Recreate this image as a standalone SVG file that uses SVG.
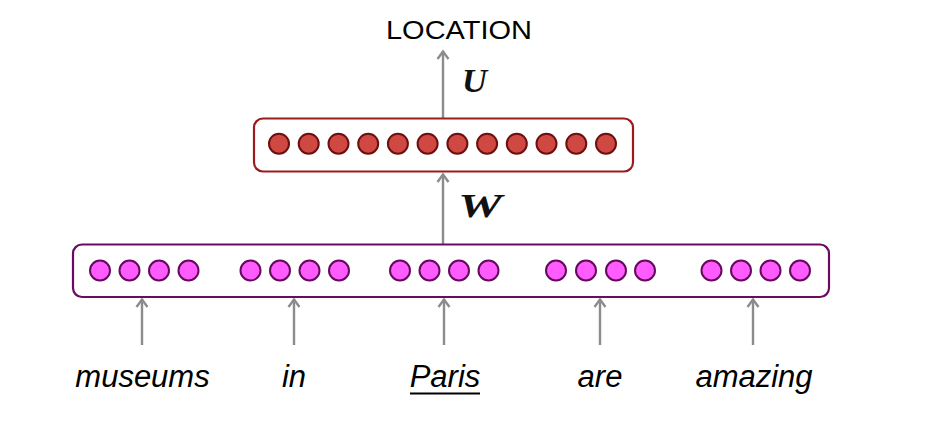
<svg xmlns="http://www.w3.org/2000/svg" width="942" height="424" viewBox="0 0 942 424">
<defs>
<style>
.hb{fill:#fff;stroke:#9b1c1c;stroke-width:2.2}
.ib{fill:#fff;stroke:#6b0a5e;stroke-width:2.2}
.hc{fill:#d04842;stroke:#6e0f0f;stroke-width:2}
.ic{fill:#ff5cff;stroke:#650a5a;stroke-width:2}
.ln{stroke:#8c8c8c;stroke-width:2.4}
.hd{fill:none;stroke:#8c8c8c;stroke-width:2.4}
.w{font-family:"Liberation Sans",Arial,sans-serif;font-style:italic;font-size:31px;fill:#000;text-anchor:middle}
.m{font-family:"Liberation Serif","Times New Roman",serif;font-style:italic;font-weight:bold;font-size:34px;fill:#111}
</style>
</defs>
<rect width="942" height="424" fill="#fff"/>
<g id="connectors">
<line class="ln" x1="443" y1="118" x2="443" y2="51"/>
<path class="hd" d="M437.5,59 L443,51.5 L448.5,59"/>
<line class="ln" x1="443" y1="244" x2="443" y2="174"/>
<path class="hd" d="M437.5,182 L443,174.5 L448.5,182"/>
<line class="ln" x1="142" y1="345" x2="142" y2="299"/>
<path class="hd" d="M136.5,307 L142,299.5 L147.5,307"/>
<line class="ln" x1="294" y1="345" x2="294" y2="299"/>
<path class="hd" d="M288.5,307 L294,299.5 L299.5,307"/>
<line class="ln" x1="444" y1="345" x2="444" y2="299"/>
<path class="hd" d="M438.5,307 L444,299.5 L449.5,307"/>
<line class="ln" x1="600" y1="345" x2="600" y2="299"/>
<path class="hd" d="M594.5,307 L600,299.5 L605.5,307"/>
<line class="ln" x1="753" y1="345" x2="753" y2="299"/>
<path class="hd" d="M747.5,307 L753,299.5 L758.5,307"/>
</g>
<g id="hidden">
<rect class="hb" x="254" y="118.5" width="379" height="53" rx="9"/>
<circle class="hc" cx="279" cy="143.7" r="10"/>
<circle class="hc" cx="308.7" cy="143.7" r="10"/>
<circle class="hc" cx="338.5" cy="143.7" r="10"/>
<circle class="hc" cx="368.2" cy="143.7" r="10"/>
<circle class="hc" cx="397.9" cy="143.7" r="10"/>
<circle class="hc" cx="427.6" cy="143.7" r="10"/>
<circle class="hc" cx="457.4" cy="143.7" r="10"/>
<circle class="hc" cx="487.1" cy="143.7" r="10"/>
<circle class="hc" cx="516.8" cy="143.7" r="10"/>
<circle class="hc" cx="546.5" cy="143.7" r="10"/>
<circle class="hc" cx="576.3" cy="143.7" r="10"/>
<circle class="hc" cx="606" cy="143.7" r="10"/>
</g>
<g id="input">
<rect class="ib" x="73" y="244.5" width="756" height="52.5" rx="9"/>
<circle class="ic" cx="100" cy="270.5" r="10"/>
<circle class="ic" cx="129.5" cy="270.5" r="10"/>
<circle class="ic" cx="159" cy="270.5" r="10"/>
<circle class="ic" cx="188.5" cy="270.5" r="10"/>
<circle class="ic" cx="250.5" cy="270.5" r="10"/>
<circle class="ic" cx="280" cy="270.5" r="10"/>
<circle class="ic" cx="309.5" cy="270.5" r="10"/>
<circle class="ic" cx="339" cy="270.5" r="10"/>
<circle class="ic" cx="400" cy="270.5" r="10"/>
<circle class="ic" cx="429.5" cy="270.5" r="10"/>
<circle class="ic" cx="459" cy="270.5" r="10"/>
<circle class="ic" cx="488.5" cy="270.5" r="10"/>
<circle class="ic" cx="556" cy="270.5" r="10"/>
<circle class="ic" cx="586" cy="270.5" r="10"/>
<circle class="ic" cx="616" cy="270.5" r="10"/>
<circle class="ic" cx="645" cy="270.5" r="10"/>
<circle class="ic" cx="711.5" cy="270.5" r="10"/>
<circle class="ic" cx="741" cy="270.5" r="10"/>
<circle class="ic" cx="770.5" cy="270.5" r="10"/>
<circle class="ic" cx="800" cy="270.5" r="10"/>
</g>
<g id="output">
<text x="459" y="39" font-family="'Liberation Sans',Arial,sans-serif" font-size="26" text-anchor="middle" textLength="146" lengthAdjust="spacingAndGlyphs">LOCATION</text>
</g>
<g id="labels">
<text class="m" x="462" y="92" textLength="25" lengthAdjust="spacingAndGlyphs">U</text>
<text class="m" x="458" y="217" textLength="44" lengthAdjust="spacingAndGlyphs">W</text>
</g>
<g id="words">
<text class="w" x="142.5" y="387">museums</text>
<text class="w" x="294" y="387">in</text>
<text class="w" x="445" y="387">Paris</text>
<line x1="410" y1="393.5" x2="480" y2="393.5" stroke="#000" stroke-width="2"/>
<text class="w" x="600" y="387">are</text>
<text class="w" x="754" y="387">amazing</text>
</g>
</svg>
